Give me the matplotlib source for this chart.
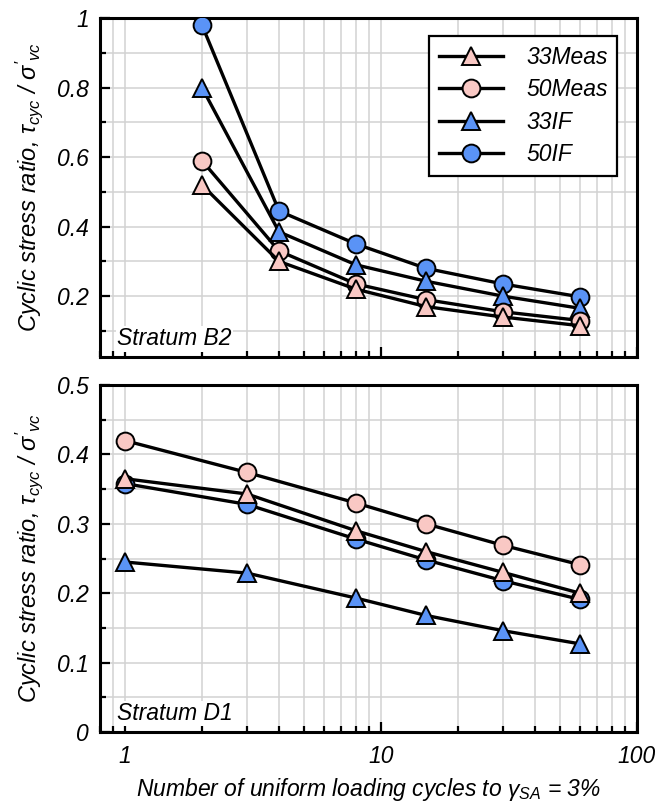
import numpy as np
import matplotlib
matplotlib.use("Agg")
import matplotlib.pyplot as plt
from matplotlib.ticker import MultipleLocator, FormatStrFormatter, LogLocator, NullFormatter

plt.rcParams['font.family'] = ['Liberation Sans', 'DejaVu Sans']
plt.rcParams['font.style'] = 'italic'
plt.rcParams['mathtext.fontset'] = 'custom'
plt.rcParams['mathtext.it'] = 'Liberation Sans:italic'
plt.rcParams['mathtext.rm'] = 'Liberation Sans:italic'

pink = '#F9C8C4'
blue = '#5A93F6'

# Stratum B2 (upper panel)
n_b2 = [2, 4, 8, 15, 30, 60]
b2_33meas = [0.52, 0.30, 0.22, 0.17, 0.14, 0.115]
b2_50meas = [0.59, 0.33, 0.235, 0.19, 0.155, 0.13]
b2_33if = [0.80, 0.385, 0.29, 0.243, 0.20, 0.165]
b2_50if = [0.98, 0.445, 0.35, 0.28, 0.235, 0.198]

# Stratum D1 (lower panel)
n_d1 = [1, 3, 8, 15, 30, 60]
d1_33meas = [0.365, 0.343, 0.29, 0.26, 0.23, 0.20]
d1_50meas = [0.42, 0.374, 0.33, 0.30, 0.269, 0.241]
d1_33if = [0.245, 0.229, 0.193, 0.168, 0.146, 0.127]
d1_50if = [0.358, 0.328, 0.278, 0.248, 0.218, 0.191]

labels = ['33Meas', '50Meas', '33IF', '50IF']

fs = 16.5

fig = plt.figure(figsize=(6.61, 8.07), dpi=100)
ax1 = fig.add_axes([0.1513, 0.5576, 0.8124, 0.4201])
ax2 = fig.add_axes([0.1513, 0.0929, 0.8124, 0.4300])

ms = 12.8
lw = 2.4


def series(ax, n, y, marker, color, z):
    return ax.plot(n, y, color='black', lw=lw, marker=marker, ms=ms,
                   mfc=color, mec='black', mew=1.4, zorder=z)[0]


def style(ax, ymin, ymax, major, minor):
    ax.set_xscale('log')
    ax.set_xlim(0.8, 100)
    ax.set_ylim(ymin, ymax)
    ax.xaxis.set_major_locator(LogLocator(base=10, numticks=10))
    ax.xaxis.set_minor_locator(LogLocator(base=10, subs=np.arange(2, 10), numticks=10))
    ax.xaxis.set_minor_formatter(NullFormatter())
    ax.yaxis.set_major_locator(MultipleLocator(major))
    ax.yaxis.set_minor_locator(MultipleLocator(minor))
    ax.yaxis.set_major_formatter(FormatStrFormatter('%g'))
    ax.grid(True, which='both', color='#d2d2d2', lw=1.1, zorder=0)
    ax.set_axisbelow(True)
    for s in ax.spines.values():
        s.set_linewidth(2.2)
    ax.tick_params(which='both', direction='in', top=False, right=False,
                   labelsize=fs, width=1.6)
    ax.tick_params(which='major', length=7)
    ax.tick_params(which='minor', length=4)
    ax.tick_params(axis='y', which='major', pad=8)
    ax.set_ylabel(r"Cyclic stress ratio, $\tau_{cyc}$ / $\sigma'_{vc}$",
                  fontsize=17, labelpad=9)


# upper panel
h50if = series(ax1, n_b2, b2_50if, 'o', blue, 3)
h33if = series(ax1, n_b2, b2_33if, '^', blue, 4)
h50m = series(ax1, n_b2, b2_50meas, 'o', pink, 5)
h33m = series(ax1, n_b2, b2_33meas, '^', pink, 6)
style(ax1, 0.025, 1.0, 0.2, 0.1)
ax1.tick_params(axis='x', which='both', labelbottom=False)
ax1.text(0.032, 0.02, 'Stratum B2', transform=ax1.transAxes, fontsize=fs,
         ha='left', va='bottom', zorder=7,
         bbox=dict(facecolor='white', edgecolor='none', pad=1))
leg = ax1.legend([h33m, h50m, h33if, h50if], labels, loc='upper right',
                 bbox_to_anchor=(0.963, 0.947), borderaxespad=0, fontsize=fs,
                 fancybox=False, framealpha=1, edgecolor='black',
                 handlelength=2.8, handletextpad=1.0, labelspacing=0.42,
                 borderpad=0.42)
leg.get_frame().set_linewidth(1.6)
leg.set_zorder(10)

# lower panel
series(ax2, n_d1, d1_50if, 'o', blue, 3)
series(ax2, n_d1, d1_33if, '^', blue, 4)
series(ax2, n_d1, d1_50meas, 'o', pink, 5)
series(ax2, n_d1, d1_33meas, '^', pink, 6)
style(ax2, 0, 0.5, 0.1, 0.05)
ax2.set_xticks([1, 10, 100])
ax2.set_xticklabels(['1', '10', '100'])
ax2.tick_params(axis='x', which='major', pad=9)
ax2.text(0.032, 0.02, 'Stratum D1', transform=ax2.transAxes, fontsize=fs,
         ha='left', va='bottom', zorder=7,
         bbox=dict(facecolor='white', edgecolor='none', pad=1))
ax2.set_xlabel(r"Number of uniform loading cycles to $\gamma_{SA}$ = 3%",
               fontsize=fs, labelpad=6)

fig.savefig('out.png', dpi=100)
